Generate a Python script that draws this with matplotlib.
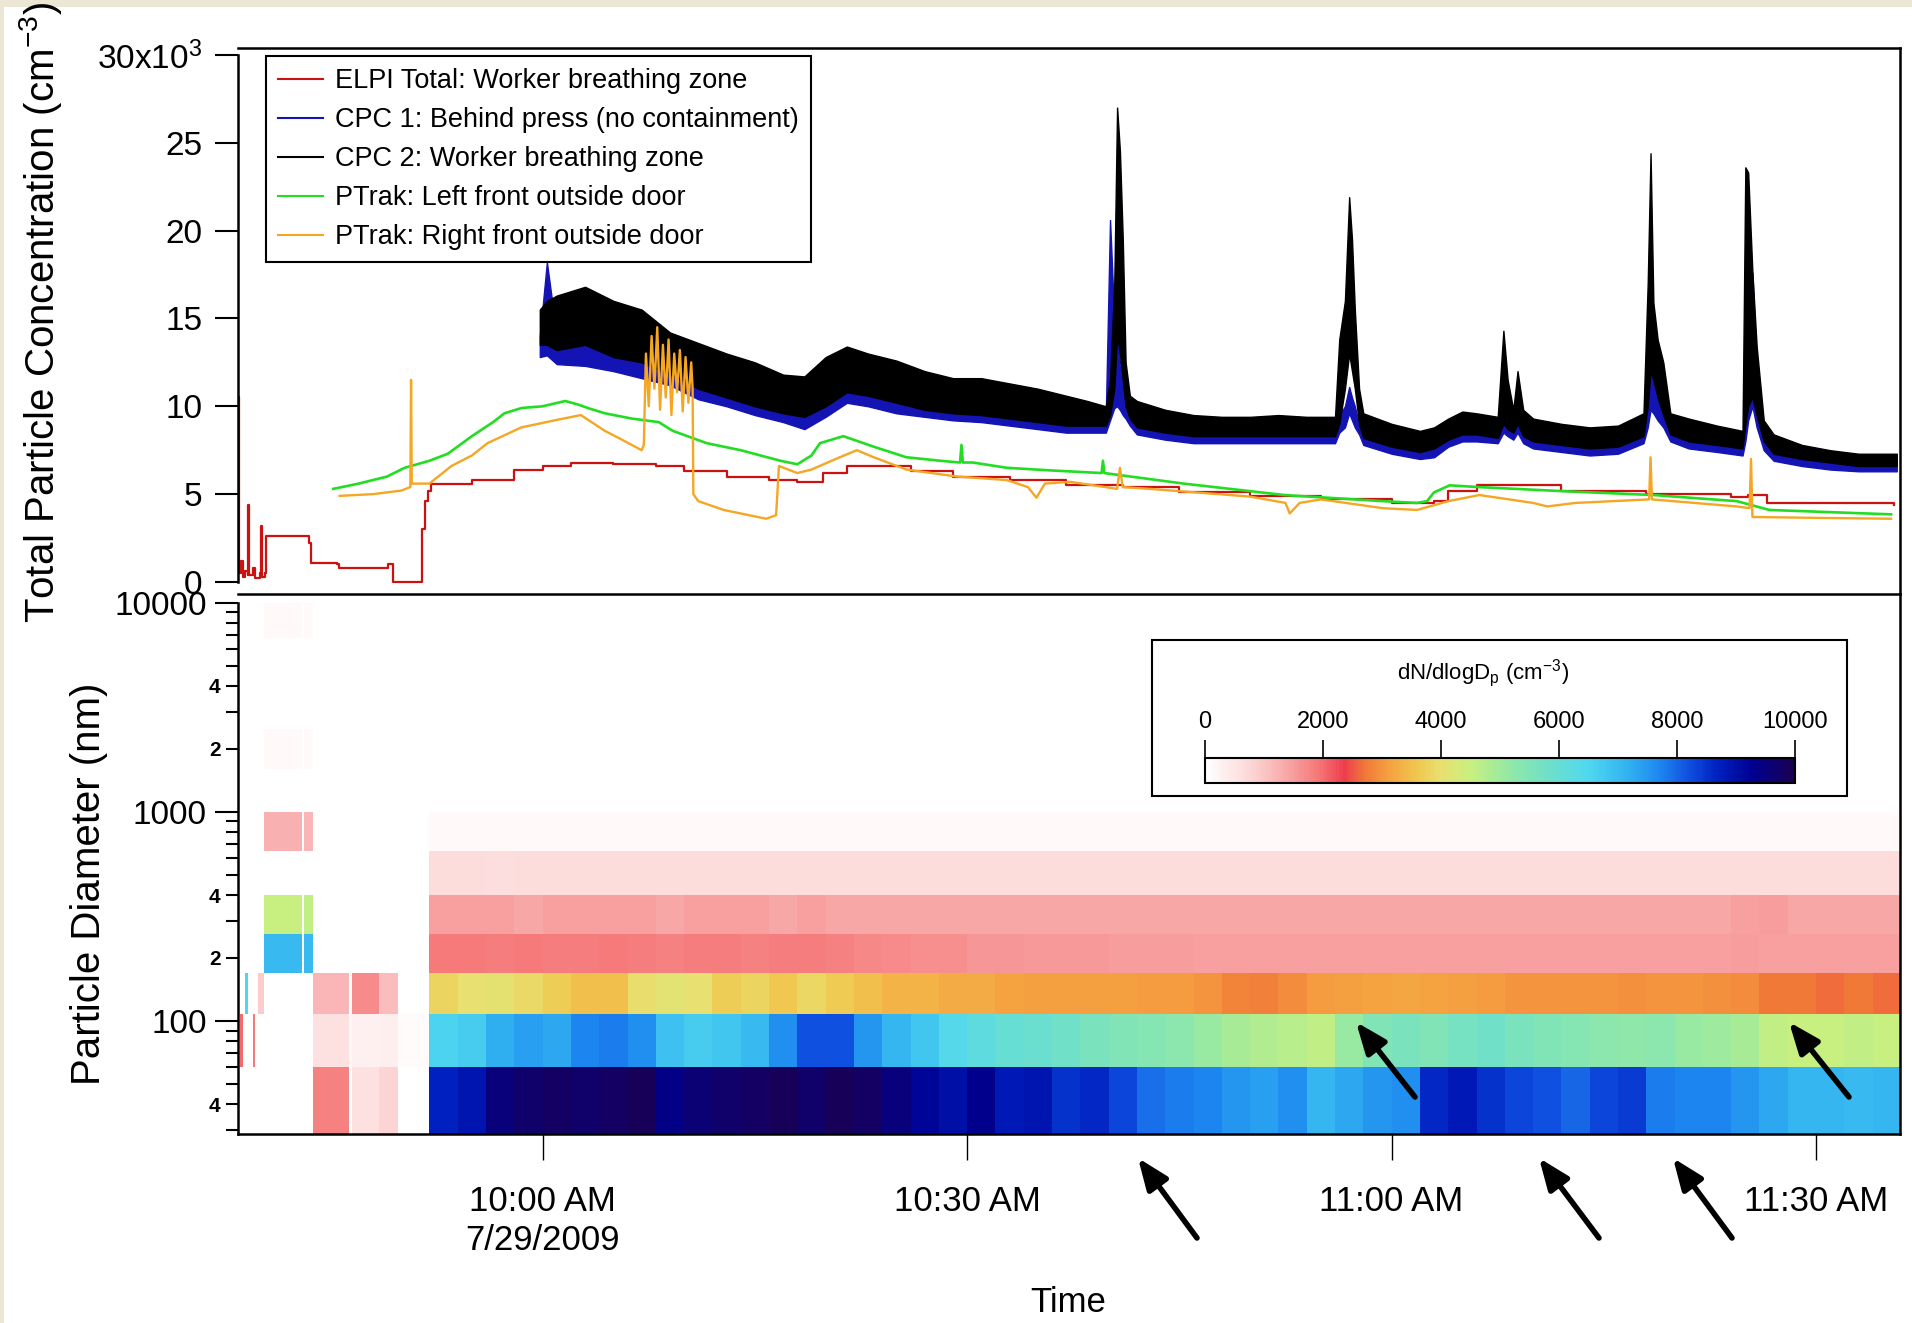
import numpy as np
import matplotlib
matplotlib.use("Agg")
import matplotlib.pyplot as plt
import matplotlib.dates as mdates
from matplotlib.colors import LinearSegmentedColormap
from matplotlib.lines import Line2D
from matplotlib.patches import Rectangle, FancyArrowPatch
from matplotlib.ticker import FixedLocator, FuncFormatter, NullLocator

plt.rcParams['font.family'] = ['Liberation Sans', 'DejaVu Sans']
plt.rcParams['mathtext.fontset'] = 'custom'
plt.rcParams['mathtext.rm'] = 'Liberation Sans'
plt.rcParams['mathtext.it'] = 'Liberation Sans:italic'
plt.rcParams['mathtext.bf'] = 'Liberation Sans:bold'

# ---- time series (minutes after 10:00 AM, values in 10^3 cm^-3) ----
elpi_t = [-21.5, -21.45, -21.3, -21.2, -21.0, -20.85, -20.8, -20.75, -20.5, -20.3,
          -20.0, -19.9, -19.85, -19.6, -19.55, -16.7, -16.5, -16.4, -14.5, -14.4,
          -11.0, -10.9, -10.6, -10.55, -8.7, -8.5, -8.3, -8.1, -7.9, -5.0,
          -2.0, 0.0, 2.0, 5.0, 8.0, 10.0, 13.0, 16.0, 18.0, 19.8,
          21.5, 24.0, 26.0, 29.0, 33.0, 37.0, 41.0, 45.0, 50.0, 55.0,
          60.0, 63.0, 64.0, 66.0, 72.0, 78.0, 84.0, 85.2, 86.5, 95.5]
elpi_k = [10.5, 0.5, 1.2, 0.3, 0.6, 0.4, 4.4, 0.4, 0.8, 0.2,
          0.5, 3.2, 0.3, 0.5, 2.6, 2.6, 2.2, 1.1, 1.0, 0.8,
          0.8, 1.0, 1.0, 0.0, 0.0, 3.0, 4.6, 5.2, 5.6, 5.8,
          6.4, 6.6, 6.8, 6.7, 6.6, 6.3, 6.0, 5.8, 5.7, 6.2,
          6.6, 6.6, 6.3, 6.0, 5.8, 5.5, 5.4, 5.1, 4.9, 4.7,
          4.5, 4.6, 5.2, 5.5, 5.2, 5.0, 4.85, 4.95, 4.5, 4.4]

green_t = [-14.8, -13.0, -11.0, -9.75, -8.0, -6.7, -5.0, -3.5, -2.7, -1.5,
           0.0, 1.6, 2.5, 3.2, 4.4, 6.3, 8.2, 9.2, 11.6, 14.0,
           16.8, 18.0, 19.0, 19.6, 21.25, 23.4, 25.7, 28.1, 29.5, 29.6,
           29.7, 30.4, 32.8, 35.9, 39.5, 39.6, 39.7, 45.3, 52.4, 59.4,
           61.8, 62.5, 63.0, 64.1, 66.2, 72.6, 78.5, 84.4, 86.7, 95.3]
green_k = [5.3, 5.6, 6.0, 6.5, 6.9, 7.3, 8.3, 9.1, 9.6, 9.9,
           10.0, 10.3, 10.1, 9.9, 9.6, 9.3, 9.1, 8.6, 7.9, 7.5,
           6.9, 6.7, 7.2, 7.9, 8.3, 7.7, 7.1, 6.9, 6.8, 7.8,
           6.8, 6.8, 6.5, 6.35, 6.2, 6.9, 6.2, 5.6, 4.95, 4.6,
           4.5, 4.6, 5.1, 5.5, 5.4, 5.15, 4.95, 4.6, 4.1, 3.85]

orange_t = [-14.35, -12.0, -10.0, -9.35, -9.3, -9.25, -8.0, -6.45, -5.0, -3.9,
            -1.5, 0.85, 2.7, 4.4, 5.6, 7.0, 7.15, 7.3, 7.5, 7.7,
            7.9, 8.1, 8.3, 8.5, 8.7, 8.9, 9.1, 9.3, 9.5, 9.7,
            9.9, 10.1, 10.3, 10.5, 10.6, 10.65, 11.0, 12.8, 15.8, 16.5,
            16.7, 18.0, 19.0, 21.0, 22.2, 23.4, 25.7, 29.3, 32.8, 34.3,
            34.9, 35.5, 37.3, 40.6, 40.8, 41.0, 42.9, 50.0, 52.5, 52.8,
            53.5, 55.0, 59.4, 61.8, 64.0, 66.2, 70.0, 71.0, 73.0, 78.2,
            78.3, 78.4, 84.4, 85.3, 85.4, 85.5, 90.0, 95.3]
orange_k = [4.9, 5.0, 5.2, 5.4, 11.5, 5.6, 5.6, 6.6, 7.2, 7.9,
            8.8, 9.2, 9.5, 8.6, 8.1, 7.5, 7.8, 13.0, 10.0, 14.0,
            11.0, 14.5, 9.8, 13.5, 10.5, 13.8, 9.5, 13.0, 10.8, 13.2,
            9.7, 12.8, 10.2, 12.5, 11.0, 5.0, 4.6, 4.1, 3.6, 3.8,
            6.6, 6.2, 6.4, 7.1, 7.5, 7.1, 6.4, 6.0, 5.8, 5.4,
            4.8, 5.6, 5.7, 5.3, 6.5, 5.4, 5.3, 4.86, 4.5, 3.9,
            4.5, 4.7, 4.2, 4.1, 4.6, 4.95, 4.5, 4.3, 4.5, 4.7,
            7.1, 4.7, 4.3, 4.2, 7.0, 3.7, 3.65, 3.6]

# CPC traces are very noisy: kept as upper / lower envelope of the trace
cpc_t = [-0.2, 0.3, 1, 3, 5, 7, 9, 11, 13, 15,
         17, 18.5, 20, 21.5, 23, 25, 27, 29, 31, 33,
         35, 37, 38.5, 39.8, 40.1, 40.4, 40.6, 40.8, 41.0, 41.2,
         41.5, 42, 44, 46, 48, 50, 52, 54, 56, 56.3,
         56.7, 57.0, 57.2, 57.4, 57.7, 58, 60, 62, 63, 64,
         65, 66, 67.5, 67.9, 68.2, 68.6, 68.9, 69.3, 70, 72,
         74, 76, 77.8, 78.1, 78.3, 78.5, 78.8, 79.2, 79.7, 81,
         83, 84.8, 85.0, 85.2, 85.5, 85.8, 86.3, 87, 89, 91,
         93, 95.7]
cpc2_hi = [15.5, 16.0, 16.3, 16.8, 16.0, 15.5, 14.2, 13.6, 13.0, 12.5,
           11.8, 11.7, 12.8, 13.4, 13.0, 12.6, 12.0, 11.6, 11.6, 11.3,
           11.0, 10.6, 10.3, 10.0, 11.5, 17.0, 27.0, 24.5, 19.5, 12.5,
           10.6, 10.3, 9.8, 9.5, 9.4, 9.4, 9.5, 9.4, 9.4, 13.8,
           16.0, 21.9, 19.5, 15.5, 11.0, 9.6, 9.0, 8.6, 8.8, 9.3,
           9.7, 9.6, 9.4, 14.3, 11.5, 9.8, 12.0, 9.8, 9.3, 9.0,
           8.8, 8.9, 9.6, 17.0, 24.4, 15.9, 13.8, 12.5, 9.6, 9.3,
           8.9, 8.6, 23.6, 23.3, 17.6, 13.4, 9.2, 8.4, 7.8, 7.5,
           7.3, 7.3]
cpc2_lo = [13.5, 13.5, 13.2, 13.5, 12.8, 12.5, 11.8, 11.0, 10.5, 10.0,
           9.6, 9.4, 10.0, 10.8, 10.6, 10.2, 9.8, 9.6, 9.5, 9.3,
           9.1, 8.9, 8.9, 8.9, 9.5, 11.0, 14.0, 13.0, 11.5, 10.0,
           9.3, 8.8, 8.5, 8.3, 8.3, 8.3, 8.3, 8.3, 8.3, 9.0,
           11.0, 13.0, 12.0, 11.0, 9.0, 8.2, 7.7, 7.4, 7.6, 8.1,
           8.4, 8.4, 8.2, 9.0, 8.7, 8.5, 9.0, 8.3, 8.0, 7.8,
           7.6, 7.7, 8.3, 10.0, 12.0, 11.5, 10.5, 9.5, 8.4, 8.0,
           7.8, 7.6, 9.0, 10.0, 10.5, 9.5, 8.0, 7.3, 7.0, 6.8,
           6.6, 6.6]
cpc1_hi = [14.0, 18.2, 14.0, 14.0, 13.5, 13.0, 12.5, 11.8, 11.3, 10.8,
           10.3, 10.0, 10.8, 11.5, 11.3, 11.0, 10.5, 10.2, 10.2, 10.0,
           9.8, 9.6, 9.5, 9.5, 20.6, 15.0, 14.0, 12.5, 11.5, 10.5,
           9.8, 9.4, 9.0, 8.8, 8.8, 8.8, 8.8, 8.8, 8.8, 9.5,
           10.0, 11.1, 10.5, 10.0, 9.0, 8.6, 8.2, 7.9, 8.0, 8.6,
           8.9, 8.9, 8.7, 11.0, 9.5, 9.0, 10.0, 8.8, 8.5, 8.3,
           8.1, 8.2, 8.8, 10.5, 12.0, 12.0, 11.0, 10.0, 8.9, 8.5,
           8.3, 8.1, 9.0, 15.0, 17.6, 12.0, 8.5, 7.8, 7.4, 7.2,
           7.0, 7.0]
cpc1_lo = [12.8, 12.9, 12.4, 12.3, 12.0, 11.6, 11.2, 10.4, 10.0, 9.5,
           9.1, 8.7, 9.4, 10.2, 10.0, 9.6, 9.4, 9.2, 9.1, 8.9,
           8.7, 8.5, 8.5, 8.5, 9.2, 9.9, 10.0, 9.8, 9.5, 9.3,
           8.9, 8.4, 8.1, 7.9, 7.9, 7.9, 7.9, 7.9, 7.9, 8.5,
           8.8, 9.6, 9.2, 8.8, 8.4, 7.8, 7.3, 7.0, 7.1, 7.7,
           8.0, 8.0, 7.9, 8.5, 8.3, 8.1, 8.5, 7.9, 7.6, 7.4,
           7.2, 7.3, 7.9, 8.8, 9.8, 9.6, 9.2, 8.8, 8.0, 7.6,
           7.4, 7.2, 8.0, 9.2, 10.0, 8.8, 7.5, 6.9, 6.6, 6.4,
           6.3, 6.3]

# ---- ELPI size distribution, dN/dlogDp (cm^-3) ----
size_edges = [28.8, 60, 108, 170, 260, 400, 650, 1000, 1600, 2500, 4400, 6800, 10000]

early_t_edges = [-21.4, -21.2, -21.0, -20.8, -20.5, -20.3, -20.1, -19.7,
                 -17.0, -16.85, -16.2, -13.7, -13.5, -11.6, -10.2, -8.0]
early_grid = [
    [0, 0, 0, 0, 0, 0, 0, 0, 0, 0, 1800, 0, 600, 800, 0],
    [2000, 0, 0, 0, 1900, 0, 0, 0, 0, 0, 600, 200, 300, 350, 100],
    [0, 0, 6500, 0, 0, 0, 900, 0, 0, 0, 1200, 0, 1700, 1100, 0],
    [0, 0, 0, 0, 0, 0, 0, 7000, 0, 7000, 0, 0, 0, 0, 0],
    [0, 0, 0, 0, 0, 0, 0, 4500, 0, 4600, 0, 0, 0, 0, 0],
    [0, 0, 0, 0, 0, 0, 0, 0, 0, 0, 0, 0, 0, 0, 0],
    [0, 0, 0, 0, 0, 0, 0, 1250, 0, 1200, 0, 0, 0, 0, 0],
    [0, 0, 0, 0, 0, 0, 0, 0, 0, 0, 0, 0, 0, 0, 0],
    [0, 0, 0, 0, 0, 0, 0, 150, 0, 120, 0, 0, 0, 0, 0],
    [0, 0, 0, 0, 0, 0, 0, 0, 0, 0, 0, 0, 0, 0, 0],
    [0, 0, 0, 0, 0, 0, 0, 0, 0, 0, 0, 0, 0, 0, 0],
    [0, 0, 0, 0, 0, 0, 0, 150, 0, 120, 0, 0, 0, 0, 0],
]

main_t_edges = [-8, -6, -4, -2, 0, 2, 4, 6, 8, 10, 12, 14, 16, 18, 20, 22, 24, 26,
                28, 30, 32, 34, 36, 38, 40, 42, 44, 46, 48, 50, 52, 54, 56, 58,
                60, 62, 64, 66, 68, 70, 72, 74, 76, 78, 80, 82, 84, 86, 88, 90,
                92, 94, 96]
b30_60 = [8700, 8900, 9500, 9700, 9800, 9700, 9800, 9900, 9400, 9600,
          9700, 9800, 9900, 9700, 9900, 9800, 9500, 9200, 9000, 9300,
          8800, 8900, 8500, 8600, 8300, 7900, 7800, 7700, 7500, 7400,
          7600, 7100, 7300, 7500, 7600, 8600, 8800, 8500, 8300, 8200,
          8000, 8300, 8400, 7800, 7700, 7700, 7500, 7300, 7100, 7100,
          7000, 7100]
b60_108 = [6600, 6700, 7200, 7400, 7300, 7700, 7800, 7600, 6900, 6700,
           6800, 7000, 7600, 8200, 8200, 7500, 7100, 6800, 6400, 6200,
           6000, 5900, 5800, 5600, 5500, 5400, 5300, 5100, 4900, 4800,
           4700, 4600, 5100, 5500, 5600, 5500, 5700, 5800, 5600, 5500,
           5400, 5300, 5200, 5300, 5100, 5000, 4900, 4600, 4500, 4500,
           4600, 4500]
b108_170 = [3800, 4000, 4050, 3900, 3700, 3500, 3500, 3950, 4100, 4000,
            3700, 3800, 3600, 3850, 3650, 3500, 3350, 3350, 3250, 3250,
            3150, 3100, 3100, 3100, 3100, 3050, 3050, 3000, 2850, 2800,
            2900, 3050, 3100, 3150, 3200, 3150, 3100, 3050, 3000, 3000,
            3000, 3000, 2950, 3000, 3000, 2950, 2900, 2700, 2700, 2650,
            2700, 2650]
b170_260 = [1900, 1900, 1850, 1900, 1850, 1850, 1900, 1850, 1800, 1850,
            1850, 1800, 1850, 1850, 1800, 1750, 1700, 1650, 1650, 1600,
            1600, 1550, 1550, 1550, 1500, 1500, 1500, 1450, 1450, 1450,
            1450, 1450, 1450, 1450, 1450, 1450, 1450, 1450, 1450, 1450,
            1450, 1450, 1450, 1450, 1450, 1450, 1500, 1450, 1450, 1450,
            1450, 1450]
b260_400 = [1450, 1450, 1450, 1400, 1450, 1450, 1450, 1450, 1400, 1450,
            1450, 1450, 1400, 1450, 1400, 1400, 1400, 1400, 1400, 1400,
            1400, 1400, 1400, 1400, 1400, 1400, 1400, 1400, 1400, 1400,
            1400, 1400, 1400, 1400, 1400, 1400, 1400, 1400, 1400, 1400,
            1400, 1400, 1400, 1400, 1400, 1400, 1450, 1500, 1400, 1400,
            1400, 1400]
b400_650 = [700, 700, 650, 700, 700, 700, 700, 700, 700, 700,
            700, 700, 700, 700, 700, 700, 700, 700, 700, 700,
            700, 700, 700, 700, 700, 700, 700, 700, 700, 700,
            700, 700, 700, 700, 700, 700, 700, 700, 700, 700,
            700, 700, 700, 700, 700, 700, 700, 700, 700, 700,
            700, 700]
b650_1000 = [150, 150, 150, 150, 150, 150, 150, 150, 150, 150,
             150, 150, 150, 150, 150, 150, 150, 150, 150, 150,
             150, 150, 150, 150, 150, 150, 150, 150, 150, 150,
             150, 150, 150, 150, 150, 150, 150, 150, 150, 150,
             150, 150, 150, 150, 150, 150, 150, 150, 150, 150,
             150, 150]

series_labels = ["ELPI Total: Worker breathing zone",
                 "CPC 1: Behind press (no containment)",
                 "CPC 2: Worker breathing zone",
                 "PTrak: Left front outside door",
                 "PTrak: Right front outside door"]
series_colors = ['#CC1111', '#1414B4', 'black', '#22DD22', '#F5A623']

x_ticks_min = [0, 30, 60, 90]
x_tick_labels = ["10:00 AM\n7/29/2009", "10:30 AM", "11:00 AM", "11:30 AM"]

cmap_nodes = [(0.0, '#FFFFFF'), (0.07, '#FDDADA'), (0.14, '#F8A5A5'), (0.19, '#F67878'),
              (0.235, '#EE3E4E'), (0.27, '#F07838'), (0.31, '#F5A040'), (0.36, '#F0C850'),
              (0.40, '#E8E070'), (0.45, '#C8F080'), (0.52, '#90E8A8'), (0.58, '#70E0C8'),
              (0.65, '#50D8F0'), (0.72, '#30B0F0'), (0.77, '#1E88F0'), (0.82, '#1050E0'),
              (0.87, '#0020C0'), (0.93, '#000090'), (1.0, '#1A0050')]
cmap = LinearSegmentedColormap.from_list('dndlogdp', cmap_nodes)


def when(minutes):
    m = np.atleast_1d(np.asarray(minutes, dtype=float))
    stamps = np.datetime64('2009-07-29T10:00') + (m * 60000).astype('timedelta64[ms]')
    return mdates.date2num(stamps)


W, H = 1912, 1323
fig = plt.figure(figsize=(W / 100, H / 100), dpi=100)
fig.add_artist(Rectangle((0, 1 - 7 / H), 1, 7 / H, transform=fig.transFigure,
                         color='#ECE6D4', lw=0, zorder=-5))
fig.add_artist(Rectangle((0, 0), 4 / W, 1, transform=fig.transFigure,
                         color='#ECE6D4', lw=0, zorder=-5))

x0, x1 = when([-21.53, 95.93])
ax = fig.add_axes([238 / W, 1 - 594 / H, 1662 / W, 546 / H])
axb = fig.add_axes([238 / W, 1 - 1134 / H, 1662 / W, 540 / H])

# ---- top panel ----
ax.fill_between(when(cpc_t), cpc1_lo, cpc1_hi, color=series_colors[1], lw=1.0)
ax.fill_between(when(cpc_t), cpc2_lo, cpc2_hi, color=series_colors[2], lw=1.0)
ax.plot(when(elpi_t), elpi_k, color=series_colors[0], lw=1.6, drawstyle='steps-post')
ax.plot(when(green_t), green_k, color=series_colors[3], lw=1.9)
ax.plot(when(orange_t), orange_k, color=series_colors[4], lw=1.7)

ax.set_xlim(x0, x1)
ax.set_ylim(-0.683, 30.39)
ax.set_yticks([0, 5, 10, 15, 20, 25, 30])
ax.set_yticklabels(['0', '5', '10', '15', '20', '25', '30x10$^3$'])
ax.tick_params(axis='y', direction='out', length=16.5, width=1.5, pad=9, labelsize=24)
ax.tick_params(axis='x', bottom=False, labelbottom=False)
ax.spines['bottom'].set_visible(False)
ax.spines['left'].set_bounds(0, 30)
for s in ax.spines.values():
    s.set_linewidth(1.8)

handles = [Line2D([], [], color=c, lw=1.5) for c in series_colors]
leg = ax.legend(handles, series_labels, loc='upper left', bbox_to_anchor=(0.0169, 0.9853),
                borderaxespad=0, fontsize=19.5, fancybox=False, edgecolor='black',
                framealpha=1, handlelength=1.65, handletextpad=0.45,
                labelspacing=0.48, borderpad=0.45)
leg.get_frame().set_linewidth(1.5)

# ---- bottom panel: size distribution ----
axb.pcolormesh(when(early_t_edges), size_edges, np.array(early_grid),
               cmap=cmap, vmin=0, vmax=10000, shading='flat')
main_grid = np.array([b30_60, b60_108, b108_170, b170_260, b260_400, b400_650, b650_1000])
mesh = axb.pcolormesh(when(main_t_edges), size_edges[:8], main_grid,
                      cmap=cmap, vmin=0, vmax=10000, shading='flat')
axb.set_yscale('log')
axb.set_xlim(x0, x1)
axb.set_ylim(28.8, 11000)
axb.yaxis.set_major_locator(FixedLocator([100, 1000, 10000]))
axb.yaxis.set_major_formatter(FuncFormatter(lambda v, p: '%d' % round(v)))
minor = [30, 40, 50, 60, 70, 80, 90, 200, 300, 400, 500, 600, 700, 800, 900,
         2000, 3000, 4000, 5000, 6000, 7000, 8000, 9000]
axb.yaxis.set_minor_locator(FixedLocator(minor))


def minor_fmt(v, p):
    lead = round(v / 10 ** np.floor(np.log10(v)))
    return str(lead) if lead in (2, 4) else ''


axb.yaxis.set_minor_formatter(FuncFormatter(minor_fmt))
axb.tick_params(axis='y', which='major', direction='out', length=16.5, width=1.5,
                pad=6, labelsize=24)
axb.tick_params(axis='y', which='minor', direction='out', length=8.5, width=1.5,
                pad=4, labelsize=15)
for lbl in axb.yaxis.get_minorticklabels():
    lbl.set_fontweight('bold')
axb.set_xticks(when(x_ticks_min))
axb.set_xticklabels(x_tick_labels)
axb.xaxis.set_minor_locator(NullLocator())
axb.tick_params(axis='x', direction='out', length=19, width=1.0, pad=18, labelsize=25)
axb.spines['left'].set_bounds(28.8, 10000)
for s in axb.spines.values():
    s.set_linewidth(1.8)

# colour scale box
fig.add_artist(Rectangle((1152 / W, 1 - 796 / H), 695 / W, 156 / H,
                         transform=fig.transFigure, fill=False, ec='black', lw=1.5))
cax = fig.add_axes([1205 / W, 1 - 783 / H, 590 / W, 25 / H])
cb = fig.colorbar(mesh, cax=cax, orientation='horizontal', ticklocation='top')
cb.set_ticks([0, 2000, 4000, 6000, 8000, 10000])
cax.tick_params(direction='out', length=13, width=1.2, labelsize=17, pad=5)
cb.outline.set_linewidth(1.5)
fig.text(1483 / W, 1 - 673 / H, 'dN/dlogD$_\\mathrm{p}$ (cm$^{-3}$)', fontsize=16,
         ha='center', va='center')

# axis titles
fig.text(41 / W, 1 - 312 / H, 'Total Particle Concentration (cm$^{-3}$)', rotation=90,
         fontsize=29, ha='center', va='center')
fig.text(89 / W, 1 - 884 / H, 'Particle Diameter (nm)', rotation=90,
         fontsize=29, ha='center', va='center')
fig.text(1068 / W, 1 - 1302 / H, 'Time', fontsize=25, ha='center', va='center')

# arrows marking the spike events (tail -> head, figure pixels)
arrows = [((1197, 1238), (1138, 1158)), ((1599, 1238), (1539, 1158)),
          ((1732, 1238), (1673, 1158)), ((1415, 1097), (1356, 1022)),
          ((1849, 1097), (1789, 1022))]
for (tx, ty), (hx, hy) in arrows:
    fig.add_artist(FancyArrowPatch(
        (tx / W, 1 - ty / H), (hx / W, 1 - hy / H), transform=fig.transFigure,
        arrowstyle='-|>,head_length=0.75,head_width=0.3', mutation_scale=25,
        lw=4, color='black', shrinkA=0, shrinkB=0))

fig.savefig('out.png', dpi=100)
